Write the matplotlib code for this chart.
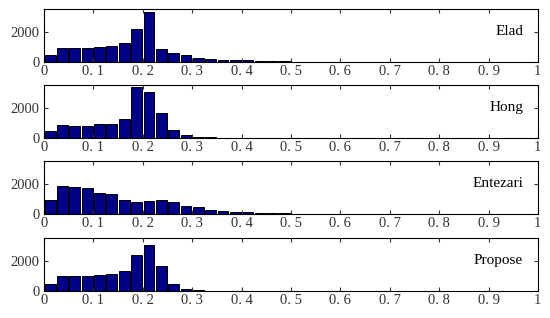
import matplotlib.pyplot as plt
import numpy as np

plt.rcParams['font.family'] = ['Liberation Serif', 'DejaVu Serif']

# histogram counts, bins of width 0.025 starting at 0
elad = [490, 910, 955, 955, 1000, 1045, 1220, 2200, 3270, 870, 600, 470, 290, 220,
        155, 155, 110, 60, 40, 35, 30, 30, 30, 30, 30]
hong = [440, 870, 820, 820, 910, 955, 1270, 3350, 3000, 1670, 530, 200, 60, 50,
        30, 25, 20]
entezari = [955, 1870, 1750, 1710, 1355, 1290, 910, 820, 845, 955, 780, 530, 490,
            290, 200, 155, 110, 60, 40, 35, 30, 30]
propose = [490, 1000, 1000, 1000, 1045, 1090, 1330, 2380, 3020, 1670, 470, 155, 60,
           30, 25, 20]
names = ['Elad', 'Hong', 'Entezari', 'Propose']
series = [elad, hong, entezari, propose]
bin_w = 0.025

xticks = np.arange(0, 1.01, 0.1)
xlabels = ['0'] + ['0. %d' % i for i in range(1, 10)] + ['1']

fig = plt.figure(figsize=(5.5, 3.18), dpi=100)
bottoms = [0.805, 0.566, 0.327, 0.085]
for name, vals, b in zip(names, series, bottoms):
    ax = fig.add_axes([0.08, b, 0.898, 0.167])
    x = (np.arange(len(vals)) + 0.5) * bin_w
    ax.bar(x, vals, width=bin_w * 0.88, color='#000088',
           edgecolor='black', linewidth=0.7)
    ax.set_xlim(0, 1)
    ax.set_ylim(0, 3500)
    ax.set_xticks(xticks)
    ax.set_xticklabels(xlabels)
    ax.set_yticks([0, 2000])
    ax.tick_params(direction='in', top=True, right=True, labelsize=10.5,
                   length=3, colors='#333333')
    ax.tick_params(axis='y', pad=3)
    ax.tick_params(axis='x', pad=2)
    for s in ax.spines.values():
        s.set_linewidth(0.8)
    ax.text(0.97, 2000, name, transform=ax.get_yaxis_transform(),
            ha='right', va='center', fontsize=11)

fig.savefig('out.png', dpi=100)
